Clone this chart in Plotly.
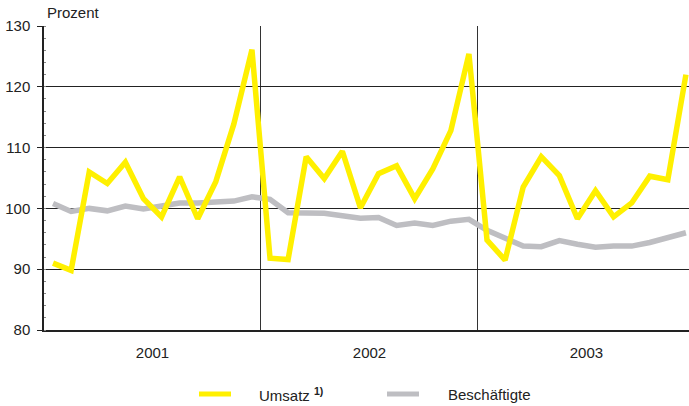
import plotly.graph_objects as go

years = ["2001", "2002", "2003"]
months = list(range(36))

umsatz = [91.0, 89.8, 106.0, 104.1, 107.6, 101.6, 98.6, 105.2, 98.3, 104.4, 113.9, 126.1,
          91.8, 91.6, 108.5, 104.9, 109.4, 100.1, 105.7, 107.0, 101.6, 106.5, 112.8, 125.4,
          94.8, 91.5, 103.5, 108.5, 105.4, 98.3, 102.9, 98.6, 100.9, 105.3, 104.7, 122.0]

beschaeftigte = [100.8, 99.5, 100.0, 99.6, 100.4, 99.9, 100.4, 100.9, 100.9, 101.0, 101.2, 101.9,
                 101.5, 99.3, 99.3, 99.2, 98.8, 98.4, 98.5, 97.2, 97.6, 97.2, 97.9, 98.2,
                 96.4, 95.2, 93.8, 93.7, 94.7, 94.1, 93.6, 93.8, 93.8, 94.4, 95.2, 96.0]

yticks = [80, 90, 100, 110, 120, 130]
year_centers = [5.5, 17.5, 29.5]
year_bounds = [11.5, 23.5]

YELLOW = "#FFF000"
GREY = "#BEBEC2"
TXT = "#222222"
FONT = "Liberation Sans, Arial, sans-serif"

fig = go.Figure()
fig.add_trace(go.Scatter(x=months, y=beschaeftigte, mode="lines", name="Beschäftigte",
                         line=dict(color=GREY, width=5.5), showlegend=False))
fig.add_trace(go.Scatter(x=months, y=umsatz, mode="lines", name="Umsatz",
                         line=dict(color=YELLOW, width=5.5), showlegend=False))

fig.update_layout(
    width=689, height=406,
    margin=dict(l=44, r=0, t=26, b=76),
    paper_bgcolor="white", plot_bgcolor="white",
    font=dict(family=FONT, size=15, color=TXT),
    xaxis=dict(range=[-0.5, 35.17], tickvals=year_centers, ticktext=years,
               ticks="", showgrid=False, zeroline=False,
               showline=True, linecolor="#222", linewidth=1.5,
               ticklabelstandoff=8,
               minor=dict(tickvals=year_bounds, showgrid=True, gridcolor="#333", gridwidth=1, ticks="")),
    yaxis=dict(range=[80, 130], tickvals=yticks, ticks="outside", ticklen=5, tickcolor="#222",
               tickwidth=1.2, showgrid=True, gridcolor="#222", gridwidth=1.2, zeroline=False,
               showline=True, linecolor="#222", linewidth=1.5, ticklabelstandoff=4,
               minor=dict(dtick=2, ticks="inside", ticklen=2, tickcolor="#888", showgrid=False)),
)

# legend / title helpers in pixel terms
def px_x(p):
    return (p - 44) / 645.0

fig.add_annotation(text="Prozent", xref="paper", yref="paper", x=px_x(45), y=1.0,
                   yshift=14, xanchor="left", yanchor="middle", showarrow=False,
                   font=dict(size=15, color=TXT))

leg_y = -64 / 304.0
fig.add_shape(type="line", xref="paper", yref="paper", x0=px_x(199), x1=px_x(231), y0=leg_y, y1=leg_y,
              line=dict(color=YELLOW, width=5))
fig.add_shape(type="line", xref="paper", yref="paper", x0=px_x(387), x1=px_x(419), y0=leg_y, y1=leg_y,
              line=dict(color=GREY, width=5))
fig.add_annotation(text="Umsatz <sup><b>1)</b></sup>", xref="paper", yref="paper", x=px_x(257), y=leg_y,
                   xanchor="left", yanchor="middle", showarrow=False, font=dict(size=15, color=TXT))
fig.add_annotation(text="Beschäftigte", xref="paper", yref="paper", x=px_x(446), y=leg_y,
                   xanchor="left", yanchor="middle", showarrow=False, font=dict(size=15, color=TXT))

fig.write_html("out.html", config={"displayModeBar": False},
               post_script="document.body.style.margin='0';document.body.style.overflow='hidden';")
